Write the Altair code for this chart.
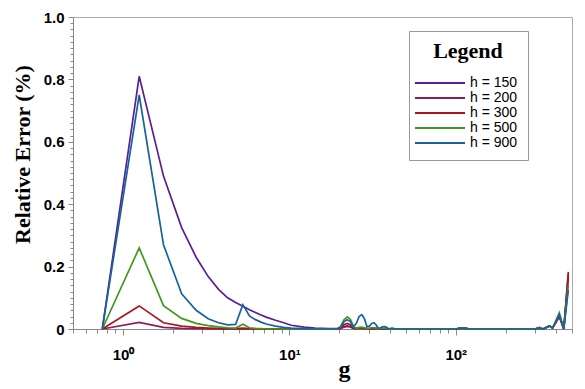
import altair as alt
import pandas as pd

# shared g grid
g = [0.75, 1.25, 1.75, 2.25, 2.75, 3.25, 3.75, 4.25, 4.75, 5.25, 5.75, 6.25, 6.75,
     7.25, 8.25, 9.25, 10.25, 12.25, 14.25, 17.25, 19.25,
     20.25, 21.25, 22.25, 23.25, 24.25, 25.25, 26.25, 27.25, 28.25, 29.25,
     30.25, 31.25, 32.25, 33.25, 34.25, 35.25, 36.25, 37.25, 38.25, 39.25,
     40.25, 41.25, 42.25, 43.25, 60.25, 100.25, 105.25, 110.25, 115.25, 120.25,
     299.25, 318.25, 335.25, 365.25, 382.25, 419.25, 446.25, 475.25]

h150 = [0, 0.81, 0.49, 0.325, 0.23, 0.168, 0.127, 0.1, 0.085, 0.073, 0.062, 0.053, 0.045,
        0.038, 0.028, 0.02, 0.012, 0.006, 0.003, 0.0015, 0.001,
        0.002, 0.006, 0.008, 0.0065, 0.002, 0.001, 0.002, 0.002, 0.0015, 0,
        0, 0, 0, 0, 0, 0, 0, 0, 0, 0,
        0, 0, 0, 0, 0, 0, 0.002, 0.004, 0.002, 0,
        0, 0.003, 0, 0.01, 0.003, 0.04, 0, 0.165]

h200 = [0, 0.021, 0.005, 0.002, 0.001, 0, 0, 0, 0, 0, 0, 0, 0,
        0, 0, 0, 0, 0, 0, 0, 0,
        0.002, 0.0075, 0.01, 0.008, 0.002, 0.001, 0.002, 0.002, 0.0015, 0,
        0, 0, 0, 0, 0, 0, 0, 0, 0, 0,
        0, 0, 0, 0, 0, 0, 0.002, 0.003, 0.002, 0,
        0, 0.004, 0, 0.01, 0.003, 0.04, 0, 0.175]

h300 = [0, 0.074, 0.02, 0.009, 0.005, 0.003, 0.002, 0.001, 0.001, 0.003, 0.001, 0, 0,
        0, 0, 0, 0, 0, 0, 0, 0,
        0.003, 0.014, 0.018, 0.014, 0.004, 0.002, 0.0035, 0.004, 0.003, 0.001,
        0.001, 0.003, 0.003, 0.002, 0, 0, 0, 0, 0, 0,
        0, 0, 0, 0, 0, 0, 0.002, 0.003, 0.002, 0,
        0, 0.005, 0, 0.01, 0.003, 0.045, 0, 0.183]

h500 = [0, 0.26, 0.075, 0.034, 0.018, 0.011, 0.007, 0.004, 0.003, 0.015, 0.004, 0.002, 0.001,
        0, 0, 0, 0, 0, 0, 0, 0,
        0.007, 0.029, 0.039, 0.031, 0.009, 0.002, 0.005, 0.006, 0.004, 0.001,
        0.002, 0.004, 0.004, 0.003, 0, 0.0015, 0.003, 0.003, 0.002, 0,
        0, 0.001, 0, 0, 0, 0, 0.002, 0.003, 0.002, 0,
        0, 0.003, 0, 0.01, 0.003, 0.052, 0, 0.14]

h900 = [0, 0.75, 0.27, 0.113, 0.06, 0.033, 0.02, 0.013, 0.015, 0.078, 0.042, 0.03, 0.022,
        0.016, 0.009, 0.005, 0.003, 0.001, 0, 0, 0,
        0.005, 0.023, 0.03, 0.024, 0.007, 0.018, 0.04, 0.046, 0.033, 0.007,
        0.009, 0.018, 0.02, 0.013, 0.002, 0.004, 0.007, 0.008, 0.006, 0.001,
        0.001, 0.003, 0.002, 0, 0, 0, 0.002, 0.003, 0.002, 0,
        0, 0.003, 0, 0.01, 0.003, 0.047, 0, 0.125]

labels = ["h = 150", "h = 200", "h = 300", "h = 500", "h = 900"]
colors = ["#5a1e96", "#8a1f55", "#a5161e", "#3f9a1f", "#17649a"]

x_ticks = [0.5, 0.6, 0.7, 0.8, 0.9, 1, 2, 3, 4, 5, 6, 7, 8, 9, 10,
           20, 30, 40, 50, 60, 70, 80, 90, 100, 200, 300, 400, 500]
y_ticks = [0, 0.02, 0.04, 0.06, 0.08, 0.1, 0.12, 0.14, 0.16, 0.18, 0.2,
           0.22, 0.24, 0.26, 0.28, 0.3, 0.32, 0.34, 0.36, 0.38, 0.4,
           0.42, 0.44, 0.46, 0.48, 0.5, 0.52, 0.54, 0.56, 0.58, 0.6,
           0.62, 0.64, 0.66, 0.68, 0.7, 0.72, 0.74, 0.76, 0.78, 0.8,
           0.82, 0.84, 0.86, 0.88, 0.9, 0.92, 0.94, 0.96, 0.98, 1.0]

rows = []
for i, (lab, ser) in enumerate(zip(labels, [h150, h200, h300, h500, h900])):
    for j, (gi, v) in enumerate(zip(g, ser)):
        rows.append({"g": gi, "err": v, "h": lab, "k": i, "idx": j})
df = pd.DataFrame(rows)

major_y = "abs(datum.value*5 - round(datum.value*5)) < 0.001"
major_x = "datum.value == 1 || datum.value == 10 || datum.value == 100"

chart = alt.Chart(df).mark_line(strokeWidth=1.7).encode(
    x=alt.X("g:Q",
            scale=alt.Scale(type="log", domain=[0.5, 500], nice=False),
            axis=alt.Axis(values=x_ticks, title="g",
                          labelExpr="datum.value == 1 ? '10⁰' : datum.value == 10 ? '10¹' : datum.value == 100 ? '10²' : ''",
                          tickSize={"condition": {"test": major_x, "value": 6}, "value": 4},
                          labelOverlap=False, labelFlush=False, labelPadding=12,
                          titleX=271, titleY=47, titleBaseline="alphabetic",
                          titleAlign="center", titleFontSize=24)),
    y=alt.Y("err:Q",
            scale=alt.Scale(domain=[0, 1], nice=False),
            axis=alt.Axis(values=y_ticks, title="Relative Error (%)",
                          labelExpr=major_y + " ? (datum.value == 0 ? '0' : format(datum.value, '.1f')) : ''",
                          tickSize={"condition": {"test": major_y, "value": 5}, "value": 3},
                          labelOverlap=False, labelFlush=False, labelPadding=4,
                          titleX=-51, titleY=137, titleAngle=270, titleAlign="center",
                          titleBaseline="middle", titleFontSize=22)),
    color=alt.Color("h:N",
                    scale=alt.Scale(domain=labels, range=colors),
                    legend=alt.Legend(title="Legend", orient="none", legendX=336, legendY=14,
                                      titleFont="Liberation Serif", titleFontSize=22,
                                      titleFontWeight="bold", titleColor="black",
                                      titleAnchor="middle", titlePadding=13,
                                      labelFont="Liberation Sans", labelFontSize=14,
                                      labelColor="black", labelOffset=37,
                                      labelExpr="datum.label + '\u00a0\u00a0\u00a0\u00a0\u00a0\u00a0\u00a0\u00a0'",
                                      symbolType="M-2.2,0H7.8", symbolSize=100,
                                      symbolStrokeWidth=1.8, rowPadding=1,
                                      padding=10, fillColor="white", strokeColor="#999999")),
    detail="h:N",
    order="idx:Q",
).properties(
    width=499, height=312,
    autosize=alt.AutoSizeParams(type="none"),
    padding={"left": 65, "top": 9, "right": 5, "bottom": 60},
).configure_view(
    stroke="#aaaaaa", strokeWidth=1
).configure_axis(
    grid=False, domainColor="#888888", tickColor="#888888",
    labelFont="Liberation Sans", labelFontWeight="bold", labelFontSize=15,
    labelColor="black", titleFont="Liberation Serif", titleFontWeight="bold",
    titleColor="black"
)

chart.save("out.html", embed_options={"renderer": "svg", "actions": False})
